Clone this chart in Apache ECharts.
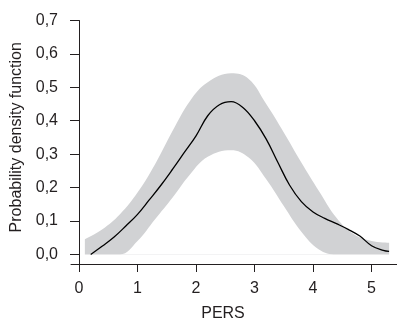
<!DOCTYPE html>
<html>
<head>
<meta charset="utf-8">
<script src="https://cdn.jsdelivr.net/npm/echarts@6/dist/echarts.min.js"></script>
<style>
  html, body { margin: 0; padding: 0; background: #fff; }
  #chart { width: 397px; height: 327px; }
</style>
</head>
<body>
<div id="chart"></div>
<script>
// confidence band
const bandX = [0.1, 0.4, 0.7, 1.0, 1.3, 1.6, 1.9, 2.2, 2.6, 2.9, 3.2, 3.5, 3.8, 4.1, 4.4, 4.7, 5.0, 5.3];
const bandUpper = [0.045, 0.075, 0.12, 0.185, 0.27, 0.37, 0.46, 0.515, 0.542, 0.525, 0.45, 0.365, 0.275, 0.19, 0.11, 0.06, 0.04, 0.035];
const bandLower = [0, 0, 0, 0.04, 0.105, 0.17, 0.24, 0.292, 0.312, 0.29, 0.225, 0.145, 0.068, 0.015, 0, 0, 0, 0];

// density estimate
const lineX = [0.2, 0.4, 0.6, 0.8, 1.0, 1.2, 1.4, 1.6, 1.8, 2.0, 2.2, 2.4, 2.6, 2.8, 3.0, 3.2, 3.4, 3.6, 3.8, 4.0, 4.2, 4.4, 4.6, 4.8, 5.0, 5.2, 5.3];
const lineY = [0.0, 0.025, 0.052, 0.085, 0.12, 0.163, 0.207, 0.255, 0.305, 0.355, 0.415, 0.448, 0.457, 0.44, 0.40, 0.345, 0.275, 0.207, 0.158, 0.127, 0.108, 0.092, 0.075, 0.055, 0.026, 0.012, 0.009];

const xTicks = [0, 1, 2, 3, 4, 5];
const yTicks = [0, 0.1, 0.2, 0.3, 0.4, 0.5, 0.6, 0.7];

const ink = "#231f20";
const font = "Liberation Sans";

const chart = echarts.init(document.getElementById("chart"));
chart.setOption({
  animation: false,
  grid: { left: 71, right: 0, top: 20.5, bottom: 60 },
  xAxis: {
    type: "value",
    min: -0.137,
    max: 5.435,
    name: "PERS",
    nameLocation: "middle",
    nameGap: 42,
    nameTextStyle: { color: ink, fontSize: 16, fontFamily: font, padding: [0, 22, 0, 0] },
    splitLine: { show: false },
    axisLine: { onZero: false, lineStyle: { color: ink, width: 1 } },
    axisTick: { length: 8, customValues: xTicks, lineStyle: { color: ink } },
    axisLabel: { customValues: xTicks, margin: 17, color: ink, fontSize: 16, fontFamily: font },
  },
  yAxis: {
    type: "value",
    min: -0.0287,
    max: 0.7,
    name: "Probability density function",
    nameLocation: "middle",
    nameGap: 44,
    nameTextStyle: { color: ink, fontSize: 16, fontFamily: font, padding: [0, 0, 0, 10] },
    splitLine: { show: false },
    axisLine: { show: true, lineStyle: { color: ink, width: 1 } },
    axisTick: { show: true, length: 9, customValues: yTicks, lineStyle: { color: ink } },
    axisLabel: {
      customValues: yTicks,
      margin: 13,
      color: ink,
      fontSize: 16,
      fontFamily: font,
      formatter: (v) => v.toFixed(1).replace(".", ","),
    },
  },
  series: [
    {
      type: "line",
      data: bandX.map((x, i) => [x, bandUpper[i]]),
      smooth: 0.4,
      symbol: "none",
      lineStyle: { width: 0, opacity: 0 },
      areaStyle: { color: "#d1d2d4", opacity: 1, origin: 0 },
      silent: true,
      z: 2,
    },
    {
      type: "line",
      data: bandX.map((x, i) => [x, bandLower[i]]),
      smooth: 0.4,
      symbol: "none",
      lineStyle: { width: 0, opacity: 0 },
      areaStyle: { color: "#ffffff", opacity: 1, origin: 0 },
      silent: true,
      z: 3,
    },
    {
      type: "line",
      data: lineX.map((x, i) => [x, lineY[i]]),
      smooth: 0.4,
      symbol: "none",
      lineStyle: { color: "#000", width: 1.3 },
      z: 5,
    },
  ],
});
</script>
</body>
</html>
